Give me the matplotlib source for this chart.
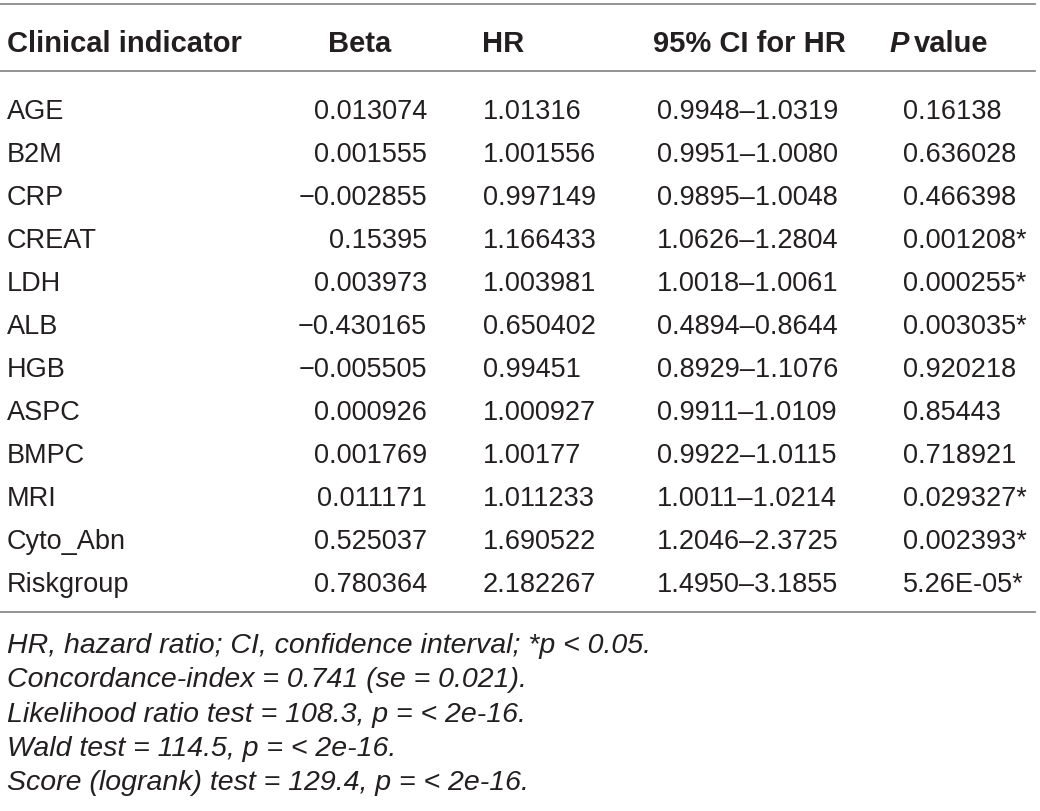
import matplotlib
matplotlib.use('Agg')
import matplotlib.pyplot as plt

# table content
indicators = ['AGE', 'B2M', 'CRP', 'CREAT', 'LDH', 'ALB', 'HGB', 'ASPC',
              'BMPC', 'MRI', 'Cyto_Abn', 'Riskgroup']
beta = ['0.013074', '0.001555', '\u22120.002855', '0.15395', '0.003973',
        '\u22120.430165', '\u22120.005505', '0.000926', '0.001769',
        '0.011171', '0.525037', '0.780364']
hr = ['1.01316', '1.001556', '0.997149', '1.166433', '1.003981', '0.650402',
      '0.99451', '1.000927', '1.00177', '1.011233', '1.690522', '2.182267']
ci = ['0.9948\u20131.0319', '0.9951\u20131.0080', '0.9895\u20131.0048',
      '1.0626\u20131.2804', '1.0018\u20131.0061', '0.4894\u20130.8644',
      '0.8929\u20131.1076', '0.9911\u20131.0109', '0.9922\u20131.0115',
      '1.0011\u20131.0214', '1.2046\u20132.3725', '1.4950\u20133.1855']
pval = ['0.16138', '0.636028', '0.466398', '0.001208*', '0.000255*',
        '0.003035*', '0.920218', '0.85443', '0.718921', '0.029327*',
        '0.002393*', '5.26E-05*']
footnotes = ['HR, hazard ratio; CI, confidence interval; *p < 0.05.',
             'Concordance-index = 0.741 (se = 0.021).',
             'Likelihood ratio test = 108.3, p = < 2e-16.',
             'Wald test = 114.5, p = < 2e-16.',
             'Score (logrank) test = 129.4, p = < 2e-16.']

txt_col = '#231f20'
line_col = '#808080'
fs = 19.5
fs_head = 21
fam = 'Liberation Sans'

fig = plt.figure(figsize=(10.4, 8.12), dpi=100)
ax = fig.add_axes([0, 0, 1, 1])
ax.set_xlim(0, 1040)
ax.set_ylim(812, 0)
ax.axis('off')

# horizontal rules
for y in [5, 72, 613]:
    ax.plot([0, 1035], [y, y], color=line_col, lw=1.2)

# header (y = cap centre)
hy = 41
head = dict(fontsize=fs_head, fontweight='bold', family=fam, color=txt_col,
            va='center_baseline')
ax.text(7, hy, 'Clinical indicator', ha='left', **head)
ax.text(360, hy, 'Beta', ha='center', **head)
ax.text(482, hy, 'HR', ha='left', **head)
ax.text(653, hy, '95% CI for HR', ha='left', **head)
p_t = ax.text(889, hy, 'P', ha='left', style='italic', **head)
fig.canvas.draw()
bb = p_t.get_window_extent().transformed(ax.transData.inverted())
ax.text(bb.x1 + 6, hy, 'value', ha='left', **head)

# body rows
y0, dy = 109, 43
body = dict(fontsize=fs, family=fam, color=txt_col, va='center_baseline')
for i in range(len(indicators)):
    y = y0 + i * dy
    ax.text(7, y, indicators[i], ha='left', **body)
    ax.text(427, y, beta[i], ha='right', **body)
    ax.text(483, y, hr[i], ha='left', **body)
    ax.text(657, y, ci[i], ha='left', **body)
    ax.text(903, y, pval[i], ha='left', **body)

# footnotes
for i, note in enumerate(footnotes):
    ax.text(7, 643 + i * 34.3, note, fontsize=20.5, family=fam, style='italic',
            color=txt_col, va='center_baseline', ha='left')

fig.savefig('out.png', dpi=100, facecolor='white')
